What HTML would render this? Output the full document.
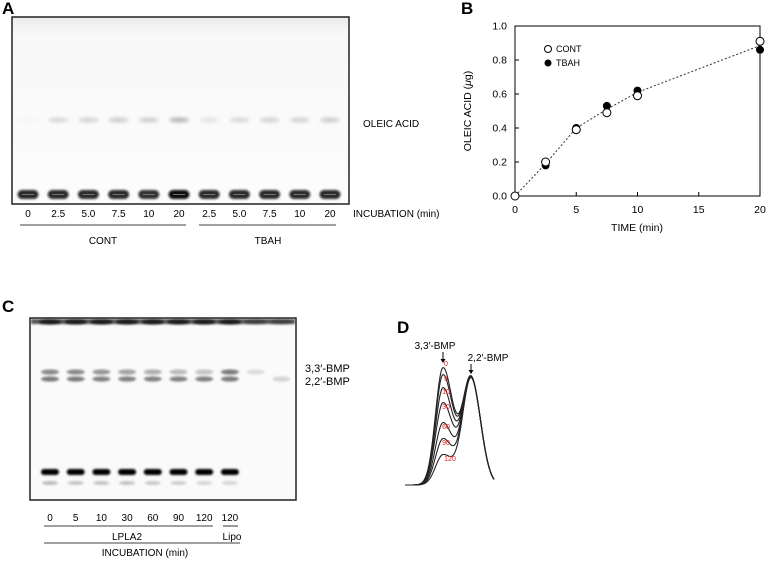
<!DOCTYPE html>
<html><head><meta charset="utf-8"><style>
html,body{margin:0;padding:0;background:#fff;}
svg{display:block;font-family:"Liberation Sans",Arial,sans-serif;}
</style></head><body>
<svg id="s" width="767" height="561" viewBox="0 0 767 561">
<defs>
<filter id="b1" x="-50%" y="-100%" width="200%" height="300%"><feGaussianBlur stdDeviation="1"/></filter>
<filter id="b2" x="-50%" y="-100%" width="200%" height="300%"><feGaussianBlur stdDeviation="1.8"/></filter>
<linearGradient id="gA" x1="0" y1="0" x2="0" y2="1"><stop offset="0" stop-color="#ebebeb"/><stop offset="0.1" stop-color="#f8f8f8"/><stop offset="1" stop-color="#fcfcfc"/></linearGradient>
</defs>
<!-- Panel A -->
<text x="2" y="14" font-size="17" font-weight="bold">A</text>
<g id="gelA">
<rect x="12" y="17" width="337" height="187" fill="url(#gA)" stroke="#222" stroke-width="1.5"/>
</g>
<text x="363" y="127" font-size="10">OLEIC ACID</text>
<g id="labA" font-size="10" text-anchor="middle"></g>
<text x="353" y="217" font-size="10">INCUBATION (min)</text>
<line x1="20" y1="225" x2="186" y2="225" stroke="#000" stroke-width="0.8"/>
<line x1="199" y1="225" x2="336" y2="225" stroke="#000" stroke-width="0.8"/>
<text x="103" y="244" font-size="10" text-anchor="middle">CONT</text>
<text x="268" y="244" font-size="10" text-anchor="middle">TBAH</text>

<!-- Panel B -->
<text x="461" y="14" font-size="17" font-weight="bold">B</text>
<g id="chartB"></g>

<!-- Panel C -->
<text x="2" y="312" font-size="17" font-weight="bold">C</text>
<g id="gelC">
<rect x="30" y="318" width="266" height="182" fill="#fafafa" stroke="#222" stroke-width="1.5"/>
<rect x="31" y="319" width="264" height="5" fill="#555" filter="url(#b1)"/>
</g>
<text x="305" y="372" font-size="11">3,3′-BMP</text>
<text x="305" y="385" font-size="11">2,2′-BMP</text>
<g id="labC" font-size="10" text-anchor="middle"></g>
<line x1="44" y1="526" x2="213" y2="526" stroke="#000" stroke-width="0.8"/>
<line x1="223" y1="526" x2="238" y2="526" stroke="#000" stroke-width="0.8"/>
<text x="127" y="540" font-size="10" text-anchor="middle">LPLA2</text>
<text x="232" y="540" font-size="10" text-anchor="middle">Lipo</text>
<line x1="44" y1="543" x2="240" y2="543" stroke="#000" stroke-width="0.8"/>
<text x="145" y="556" font-size="10" text-anchor="middle">INCUBATION (min)</text>

<!-- Panel D -->
<text x="397" y="333" font-size="17" font-weight="bold">D</text>
<text x="435" y="349" font-size="10" text-anchor="middle">3,3′-BMP</text>
<text x="488" y="361" font-size="10" text-anchor="middle">2,2′-BMP</text>
<g>
<line x1="443" y1="352" x2="443" y2="361" stroke="#000"/><path d="M440.5,359 L445.5,359 L443,363 Z"/>
<line x1="471" y1="364" x2="471" y2="372" stroke="#000"/><path d="M468.5,370 L473.5,370 L471,374 Z"/>
</g>
<g id="chartD"></g>
</svg>
<script>
var NS="http://www.w3.org/2000/svg";
function mk(t,a,p){var e=document.createElementNS(NS,t);for(var k in a)e.setAttribute(k,a[k]);(p||document.getElementById('s')).appendChild(e);return e;}

// ---- Panel A gel data ----
var laneLabelsA=["0","2.5","5.0","7.5","10","20","2.5","5.0","7.5","10","20"];
var oleicIntensityA=[0.05,0.3,0.35,0.4,0.4,0.6,0.2,0.3,0.35,0.35,0.4];
var originIntensityA=[0.88,0.88,0.88,0.88,0.85,1,0.88,0.88,0.88,0.88,0.88];
var gA=document.getElementById('gelA'),lA=document.getElementById('labA');
var ax0=28,adx=30.2;
for(var i=0;i<laneLabelsA.length;i++){
  var cx=ax0+i*adx;
  var e=mk('ellipse',{cx:cx,cy:120,rx:10,ry:2.2,fill:'#000','fill-opacity':oleicIntensityA[i]*0.5,filter:'url(#b2)'},gA);
  
  
  var o=mk('rect',{x:cx-10.5,y:190,width:21,height:9,rx:4.5,fill:'#111','fill-opacity':originIntensityA[i],filter:'url(#b1)'},gA);
  
  
  var hl=mk('line',{x1:cx-6,y1:194.5,x2:cx+6,y2:194.5,stroke:'#888','stroke-width':0.8},gA);
  
  
  var t=mk('text',{x:cx,y:217},lA);t.textContent=laneLabelsA[i];
  
  
}

// ---- Panel B chart data ----
var timesB=[0,2.5,5,7.5,10,20];
var contB=[0,0.2,0.39,0.49,0.59,0.91];
var tbahB=[0,0.18,0.4,0.53,0.62,0.86];
var fitB=[0,0.19,0.4,0.51,0.61,0.885];
var xTicksB=[0,5,10,15,20];
var yTicksB=[0,0.2,0.4,0.6,0.8,1.0];
var cB=document.getElementById('chartB');
function bx(v){return 515+v/20*245;}
function by(v){return 196-v*170;}
mk('rect',{x:515,y:26,width:245,height:170,fill:'none',stroke:'#000','stroke-width':1},cB);
xTicksB.forEach(function(v){mk('line',{x1:bx(v),y1:196,x2:bx(v),y2:192,stroke:'#000'},cB);
  var t=mk('text',{x:bx(v),y:213,'font-size':10.5,'text-anchor':'middle'},cB);t.textContent=v;
  
  });
yTicksB.forEach(function(v){mk('line',{x1:515,y1:by(v),x2:519,y2:by(v),stroke:'#000'},cB);
  var t=mk('text',{x:507,y:by(v)+3.5,'font-size':10.5,'text-anchor':'end'},cB);t.textContent=v.toFixed(1);
  
  });
var xt=mk('text',{x:637,y:231,'font-size':10.5,'text-anchor':'middle'},cB);xt.textContent='TIME (min)';


var yt=mk('text',{x:0,y:0,'font-size':10.5,'text-anchor':'middle',transform:'translate(471,111) rotate(-90)'},cB);yt.innerHTML='OLEIC ACID (<tspan font-style="italic">μ</tspan>g)';


var d='';timesB.forEach(function(v,i){d+=(i?'L':'M')+bx(v)+','+by(fitB[i]);});
var fl=mk('path',{d:d,fill:'none',stroke:'#333','stroke-width':1,'stroke-dasharray':'2,2'},cB);


timesB.forEach(function(v,i){if(i===0)return;var p=mk('circle',{cx:bx(v),cy:by(tbahB[i]),r:4,fill:'#000'},cB);
  
  });
timesB.forEach(function(v,i){var p=mk('circle',{cx:bx(v),cy:by(contB[i]),r:4,fill:'#fff',stroke:'#000','stroke-width':1},cB);
  
  });
var l1=mk('circle',{cx:548,cy:49,r:3.5,fill:'#fff',stroke:'#000'},cB);
var l2=mk('circle',{cx:548,cy:63,r:3.5,fill:'#000'},cB);
var lt1=mk('text',{x:556,y:52,'font-size':9},cB);lt1.textContent='CONT';


var lt2=mk('text',{x:556,y:66,'font-size':9},cB);lt2.textContent='TBAH';



// ---- Panel C gel data ----
var laneLabelsC=["0","5","10","30","60","90","120","120"];
var bmp33C=[0.45,0.45,0.4,0.35,0.3,0.25,0.22,0.5,0.12,0];
var bmp22C=[0.5,0.5,0.48,0.48,0.48,0.48,0.48,0.5,0,0.15];
var mainC=[1,1,1,1,1,1,1,1,0,0];
var faintC=[0.25,0.22,0.22,0.22,0.2,0.18,0.15,0.15,0,0];
var gC=document.getElementById('gelC'),lC=document.getElementById('labC');
var cx0=50,cdx=25.7;
for(var i=0;i<bmp33C.length;i++){
  var cx=cx0+i*cdx;
  var tb=mk('ellipse',{cx:cx,cy:322,rx:11,ry:2.5,fill:'#000','fill-opacity':i<8?0.7:0.3,filter:'url(#b1)'},gC);
  
  
  if(bmp33C[i]>0){var e=mk('ellipse',{cx:cx,cy:372,rx:9,ry:2.6,fill:'#000','fill-opacity':bmp33C[i],filter:'url(#b1)'},gC);
    
    }
  if(bmp22C[i]>0){var e2=mk('ellipse',{cx:cx,cy:379,rx:9,ry:2.6,fill:'#000','fill-opacity':bmp22C[i],filter:'url(#b1)'},gC);
    
    }
  if(mainC[i]>0){var m=mk('rect',{x:cx-9,y:469,width:18,height:6,rx:3,fill:'#000','fill-opacity':mainC[i],filter:'url(#b1)'},gC);
    
    }
  if(faintC[i]>0){var f=mk('ellipse',{cx:cx,cy:483,rx:8,ry:2,fill:'#000','fill-opacity':faintC[i],filter:'url(#b1)'},gC);
    
    }
  if(i<laneLabelsC.length){var t=mk('text',{x:cx,y:521},lC);t.textContent=laneLabelsC[i];
    
    }
}

// ---- Panel D densitometry data ----
var timeLabelsD=["0","5","10","30","60","90","120"];
var leftPeakD=[117,110,97,82,62,46,30];
var rightPeakD=[107,107,107,107,107,107,107];
var cD=document.getElementById('chartD');
function dyv(h){return 485-h;}
for(var k=0;k<leftPeakD.length;k++){
  var p='';
  for(var x=405;x<=494;x+=1){
    var sl=x<443?7.5:10;
    var h=leftPeakD[k]*Math.exp(-Math.pow(x-443,2)/(2*sl*sl))+rightPeakD[k]*Math.exp(-Math.pow(x-471,2)/(2*(x<471?8.5:9.5)*(x<471?8.5:9.5)));
    p+=(x===405?'M':'L')+x+','+dyv(h).toFixed(1);
  }
  var c=mk('path',{d:p,fill:'none',stroke:'#222','stroke-width':1.1},cD);
  
  
  var tl=mk('text',{x:446+(k>5?4:0),y:dyv(leftPeakD[k])+(k===0?-2:6),'font-size':7,fill:'#e02020','text-anchor':'middle'},cD);
  tl.textContent=timeLabelsD[k];
  
  
}
</script>
</body></html>
